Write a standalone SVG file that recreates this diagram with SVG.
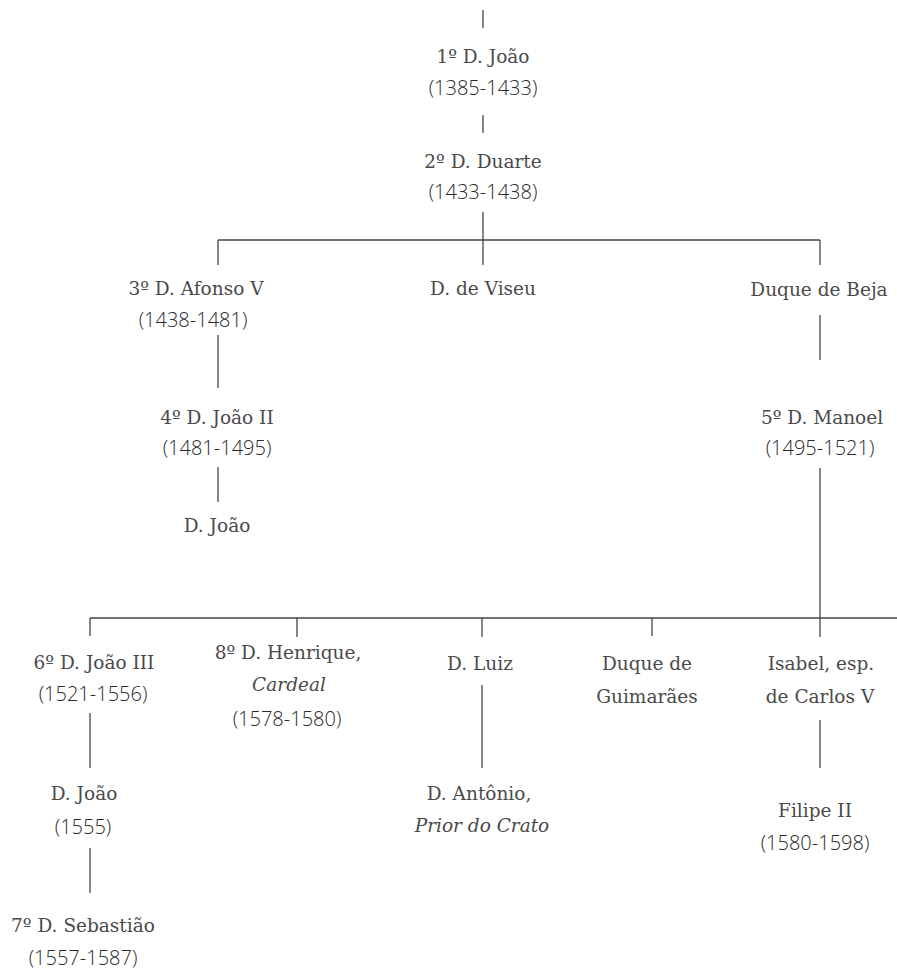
<svg xmlns="http://www.w3.org/2000/svg" width="897" height="970" viewBox="0 0 897 970">
<style>
.n{font-family:"DejaVu Serif","Liberation Serif",serif;font-size:18.5px;fill:#4a4a4a;text-anchor:middle}
.i{font-style:italic}
.d{font-family:"Open Sans","Liberation Sans",sans-serif;font-size:20px;font-weight:300;fill:#2a2a2a;text-anchor:middle}
.c line{stroke:#444;stroke-width:1.3;fill:none}
</style>
<rect width="897" height="970" fill="#fff"/>
<g class="c" id="connectors">
<line x1="483" y1="10" x2="483" y2="28"/>
<line x1="483" y1="115" x2="483" y2="133"/>
<line x1="483" y1="212" x2="483" y2="265"/>
<line x1="218" y1="240" x2="820" y2="240"/>
<line x1="218" y1="240" x2="218" y2="265"/>
<line x1="820" y1="240" x2="820" y2="265"/>
<line x1="218" y1="335" x2="218" y2="388"/>
<line x1="218" y1="467" x2="218" y2="502"/>
<line x1="820" y1="315" x2="820" y2="360"/>
<line x1="820" y1="468" x2="820" y2="637"/>
<line x1="90" y1="618" x2="897" y2="618"/>
<line x1="90" y1="618" x2="90" y2="636"/>
<line x1="297" y1="618" x2="297" y2="637"/>
<line x1="482" y1="618" x2="482" y2="637"/>
<line x1="652" y1="618" x2="652" y2="636"/>
<line x1="90" y1="713" x2="90" y2="768"/>
<line x1="482" y1="685" x2="482" y2="768"/>
<line x1="820" y1="720" x2="820" y2="768"/>
<line x1="90" y1="848" x2="90" y2="893"/>
</g>
<g id="joao1"><text class="n" x="483" y="63">1º D. João</text><text class="d" x="483" y="95">(1385-1433)</text></g>
<g id="duarte"><text class="n" x="483" y="168">2º D. Duarte</text><text class="d" x="483" y="199">(1433-1438)</text></g>
<g id="afonso"><text class="n" x="196" y="295">3º D. Afonso V</text><text class="d" x="193" y="327">(1438-1481)</text></g>
<g id="viseu"><text class="n" x="483" y="295">D. de Viseu</text></g>
<g id="beja"><text class="n" x="819" y="296">Duque de Beja</text></g>
<g id="joao2"><text class="n" x="217" y="424">4º D. João II</text><text class="d" x="217" y="455">(1481-1495)</text></g>
<g id="joao_f"><text class="n" x="217" y="532">D. João</text></g>
<g id="manoel"><text class="n" x="822" y="424">5º D. Manoel</text><text class="d" x="820" y="455">(1495-1521)</text></g>
<g id="joao3"><text class="n" x="94" y="669">6º D. João III</text><text class="d" x="93" y="701">(1521-1556)</text></g>
<g id="henrique"><text class="n" x="288" y="659">8º D. Henrique,</text><text class="n i" x="289" y="691">Cardeal</text><text class="d" x="287" y="726">(1578-1580)</text></g>
<g id="luiz"><text class="n" x="480" y="670">D. Luiz</text></g>
<g id="guimaraes"><text class="n" x="647" y="670">Duque de</text><text class="n" x="647" y="703">Guimarães</text></g>
<g id="isabel"><text class="n" x="821" y="670">Isabel, esp.</text><text class="n" x="820" y="703">de Carlos V</text></g>
<g id="joao_1555"><text class="n" x="84" y="800">D. João</text><text class="d" x="83" y="834">(1555)</text></g>
<g id="antonio"><text class="n" x="479" y="800">D. Antônio,</text><text class="n i" x="482" y="832">Prior do Crato</text></g>
<g id="filipe"><text class="n" x="815" y="817">Filipe II</text><text class="d" x="815" y="850">(1580-1598)</text></g>
<g id="sebastiao"><text class="n" x="83" y="932">7º D. Sebastião</text><text class="d" x="83" y="965">(1557-1587)</text></g>
</svg>
